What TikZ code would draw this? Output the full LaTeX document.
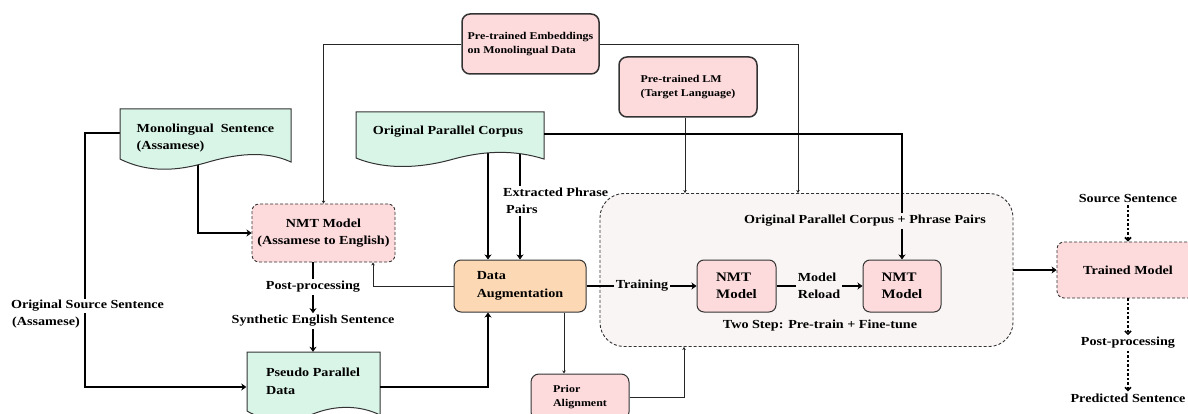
\documentclass[tikz,border=0pt]{standalone}
\usepackage{fontspec}
\setmainfont{Liberation Serif}[FakeStretch=1.15]
\usetikzlibrary{arrows.meta,calc}
\pgfdeclarelayer{bg}
\pgfsetlayers{bg,main}
\definecolor{docgreen}{HTML}{D9F5E8}
\definecolor{boxpink}{HTML}{FDDADC}
\definecolor{augorange}{HTML}{FCD8B4}
\definecolor{contfill}{HTML}{FAF5F5}
\definecolor{edge}{HTML}{333333}
\tikzset{
  txt/.style={font=\bfseries\fontsize{12.3}{17.5}\selectfont, inner sep=2pt, align=center, text=black},
  smalltxt/.style={font=\bfseries\fontsize{10.4}{14.5}\selectfont, inner sep=2pt, align=left, text=black},
  pinkbox/.style={txt, draw=edge, line width=1pt, fill=boxpink, rounded corners=7pt},
  topbox/.style={smalltxt, draw=edge, line width=1.5pt, fill=boxpink, rounded corners=8pt},
  dashbox/.style={pinkbox, dash pattern=on 3pt off 2pt, line width=0.9pt},
  nmtbox/.style={pinkbox, font=\bfseries\fontsize{13}{17.5}\selectfont, align=left},
  docarea/.style={inner sep=0pt, draw=none},
  docshape/.style={fill=docgreen, draw=edge, line width=1pt},
  thk/.style={line width=1.7pt, draw=black},
  thn/.style={line width=0.8pt, draw=black!85},
  ahead/.style={-{Stealth[length=5pt,width=7pt,inset=1.5pt]}},
  shead/.style={-{Stealth[length=3pt,width=3.5pt]}},
  dsh/.style={line width=1.7pt, dash pattern=on 2.5pt off 2pt, -{Straight Barb[length=3pt,width=6pt]}},
}
\begin{document}
\begin{tikzpicture}[x=1pt,y=-1pt]
\useasboundingbox (0,0) rectangle (1188,414);
\clip (0,0) rectangle (1188,414);
\begin{pgfonlayer}{bg}
\fill[white] (0,0) rectangle (1188,414);
\end{pgfonlayer}

% container
\node[dashbox, fill=contfill, rounded corners=24pt, minimum width=413pt, minimum height=153pt] (cont) at (806.5,270) {};

% document shapes
\path[docshape] (120,109) -- (291,109) -- (291,162) .. controls (265,150) and (235,154) .. (205,163) .. controls (180,170) and (150,174) .. (120,159) -- cycle;
\node[docarea, minimum width=171pt, minimum height=48pt] (mono) at (205.5,133) {};
\node[txt, align=left] (monot) at (205.5,138) {Monolingual\ \ Sentence\\(Assamese)};

\path[docshape] (356,112) -- (544,112) -- (544,159) .. controls (515,150) and (485,150) .. (450,160) .. controls (420,168) and (385,170) .. (356,158) -- cycle;
\node[docarea, minimum width=188pt, minimum height=44pt] (corpus) at (450,134) {};
\node[txt] (corpust) at (448,132) {Original Parallel Corpus};

\path[docshape] (247,352) -- (380,352) -- (380,415) .. controls (360,405) and (335,405) .. (313,414) .. controls (290,422) and (265,422) .. (247,411) -- cycle;
\node[docarea, minimum width=133pt, minimum height=70pt] (pseudo) at (313,387) {};
\node[txt, align=left] (pseudot) at (313,381.5) {Pseudo Parallel\\Data};

% boxes
\node[topbox, minimum width=137pt, minimum height=60pt] (emb) at (530.5,44) {Pre-trained Embeddings\\on Monolingual Data};
\node[topbox, minimum width=138pt, minimum height=60pt] (lm) at (688,87) {Pre-trained LM\\(Target Language)};
\node[dashbox, minimum width=143pt, minimum height=58pt] (nmtA) at (323.5,233) {NMT Model\\(Assamese to English)};
\node[pinkbox, fill=augorange, align=left, minimum width=132pt, minimum height=52pt] (da) at (520,286) {Data\\Augmentation};
\node[topbox, line width=1pt, minimum width=98pt, minimum height=46pt] (prior) at (580,397) {Prior\\Alignment};
\node[nmtbox, minimum width=79pt, minimum height=52pt] (nmt1) at (736.5,286) {NMT\\Model};
\node[nmtbox, minimum width=78pt, minimum height=52pt] (nmt2) at (902,286) {NMT\\Model};
\node[dashbox, minimum width=142pt, minimum height=56pt] (trained) at (1128,270) {Trained Model};

% labels
\node[txt, align=left, anchor=west] (epp) at (501,201) {Extracted Phrase\\\hspace{3pt}Pairs};
\node[txt] (pp) at (313,287) {Post-processing};
\node[txt] (syn) at (313,321) {Synthetic English Sentence};
\node[txt] (train) at (642,286) {Training};
\node[txt, align=left] (mr) at (819,286) {Model\\Reload};
\node[txt] (opc) at (865,221) {Original Parallel Corpus + Phrase Pairs};
\node[txt] (two) at (820,326) {Two Step: Pre-train + Fine-tune};
\node[txt] (src) at (1128,199) {Source Sentence};
\node[txt] (pp2) at (1128,343) {Post-processing};
\node[txt] (pred) at (1128,398) {Predicted Sentence};

% connectors hidden under document shapes
\begin{pgfonlayer}{bg}
\draw[thk, ahead] ([xshift=-7.5pt]mono.center) |- (nmtA.west);
\draw[thk, ahead] ([xshift=-32pt]da.north |- corpus.center) -- ([xshift=-32pt]da.north);
\draw[thk] (da.north |- corpus.center) -- (da.north |- epp.north);
\draw[thk, ahead] (mono.west) -- ++(-35pt,0) |- (pseudo.west);
\end{pgfonlayer}

% connectors
\draw[thk, ahead] (da.north |- epp.south) -- (da.north);
\draw[thn, shead] (emb.west) -| (nmtA.north);
\draw[thn, shead] (emb.east) -| ([xshift=-8.5pt]cont.north);
\draw[thn, shead] ([xshift=-3pt]lm.south) -- ([xshift=-3pt]lm.south |- cont.north);
\draw[thk] (corpus.east) -| (nmt2 |- opc.north);
\draw[thk, ahead] (nmt2 |- opc.south) -- (nmt2.north);
\draw[thk] ([xshift=-10.5pt]nmtA.south) -- (pp.north);
\draw[thk, ahead] (pp.south) -- (syn.north);
\draw[thk, ahead] (syn.south) -- (pseudo.north);
\draw[thn, shead] (da.west) -| ([xshift=49.5pt]nmtA.south);
\draw[thk, ahead] (pseudo.east) -| ([xshift=-32pt]da.south);
\draw[thn, shead] ([xshift=44pt]da.south) -- ([xshift=44pt]da.south |- prior.north);
\draw[thn, shead] (prior.east) -| ([xshift=-122.5pt]cont.south);
\draw[thk] (da.east) -- (train.west);
\draw[thk, ahead] (train.east) -- (nmt1.west);
\draw[thk] (nmt1.east) -- (mr.west);
\draw[thk, ahead] (mr.east) -- (nmt2.west);
\draw[thk, ahead] (cont.east) -- (trained.west);
\draw[dsh] (src.south) -- (trained.north);
\draw[dsh] (trained.south) -- (pp2.north);
\draw[dsh] (pp2.south) -- (pred.north);

% side label over the left line
\node[txt, fill=white, inner sep=1pt] (osl1) at (87.5,306) {Original Source Sentence};
\node[txt, anchor=west] (osl2) at (10,323) {(Assamese)};
\end{tikzpicture}
\end{document}
